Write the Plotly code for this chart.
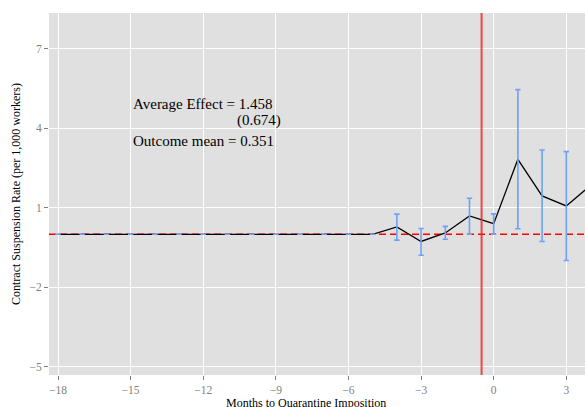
import plotly.graph_objects as go

months = [-18, -17, -16, -15, -14, -13, -12, -11, -10, -9, -8, -7, -6, -5,
          -4, -3, -2, -1, 0, 1, 2, 3, 4]
coef = [0, 0, 0, 0, 0, 0, 0, 0, 0, 0, 0, 0, 0, 0,
        0.28, -0.27, 0.05, 0.69, 0.40, 2.83, 1.45, 1.07, 1.84]
ci_upper = [0, 0, 0, 0, 0, 0, 0, 0, 0, 0, 0, 0, 0, 0,
            0.76, 0.22, 0.30, 1.36, 0.77, 5.46, 3.18, 3.12, 3.60]
ci_lower = [0, 0, 0, 0, 0, 0, 0, 0, 0, 0, 0, 0, 0, 0,
            -0.22, -0.79, -0.19, 0.00, 0.00, 0.21, -0.27, -0.99, 0.10]

x_ticks = [-18, -15, -12, -9, -6, -3, 0, 3]
y_ticks = [-5, -2, 1, 4, 7]

err_plus = [u - c for u, c in zip(ci_upper, coef)]
err_minus = [c - l for c, l in zip(coef, ci_lower)]

SERIF = "Liberation Serif, Times New Roman, serif"
TICK_GRAY = "#7f7f7f"

fig = go.Figure()
fig.add_trace(go.Scatter(
    x=months, y=coef, mode="lines",
    line=dict(color="black", width=1.3),
    hoverinfo="skip", showlegend=False,
))
fig.add_trace(go.Scatter(
    x=months, y=coef, mode="markers",
    marker=dict(size=1, color="rgba(0,0,0,0)"),
    error_y=dict(type="data", symmetric=False, array=err_plus,
                 arrayminus=err_minus, color="#6ea2f7",
                 thickness=1.6, width=2.7),
    hoverinfo="skip", showlegend=False,
))

fig.add_shape(type="line", xref="paper", yref="y", x0=0, x1=1, y0=0, y1=0,
              line=dict(color="#ff0000", width=1.6, dash="7px,4px"),
              layer="between")
fig.add_shape(type="line", xref="x", yref="paper", x0=-0.5, x1=-0.5, y0=0, y1=1,
              line=dict(color="rgba(240,40,40,0.85)", width=2),
              layer="above")

fig.add_annotation(x=-15.0, y=4.92, xref="x", yref="y", text="Average Effect = 1.458",
                   showarrow=False, xanchor="left", yanchor="middle",
                   font=dict(family=SERIF, size=15, color="black"))
fig.add_annotation(x=-8.72, y=4.30, xref="x", yref="y", text="(0.674)",
                   showarrow=False, xanchor="right", yanchor="middle",
                   font=dict(family=SERIF, size=15, color="black"))
fig.add_annotation(x=-15.0, y=3.51, xref="x", yref="y", text="Outcome mean = 0.351",
                   showarrow=False, xanchor="left", yanchor="middle",
                   font=dict(family=SERIF, size=15, color="black"))

# x-axis title (placed as annotation so it can sit at the very bottom, as in the reference)
fig.add_annotation(x=0.4795, y=0, xref="paper", yref="paper",
                   text="Months to Quarantine Imposition",
                   showarrow=False, xanchor="center", yanchor="top", yshift=-19,
                   font=dict(family=SERIF, size=12, color="black"))

fig.update_layout(
    width=585, height=407,
    margin=dict(l=49, r=0, t=13, b=32),
    paper_bgcolor="white", plot_bgcolor="#e0e0e0",
    font=dict(family=SERIF, size=12, color="black"),
    showlegend=False,
)
fig.update_xaxes(
    range=[-18.372, 3.773], tickvals=x_ticks,
    showgrid=True, gridcolor="white", gridwidth=1.2, zeroline=False,
    ticks="outside", ticklen=4, tickcolor=TICK_GRAY, tickwidth=1,
    tickfont=dict(family=SERIF, size=11.5, color=TICK_GRAY),
    showline=False, automargin=False,
)
fig.update_yaxes(
    range=[-5.31, 8.35], tickvals=y_ticks,
    showgrid=True, gridcolor="white", gridwidth=1.2, zeroline=False,
    ticks="outside", ticklen=4, tickcolor=TICK_GRAY, tickwidth=1,
    tickfont=dict(family=SERIF, size=11.5, color=TICK_GRAY),
    title=dict(text="Contract Suspension Rate (per 1,000 workers)", standoff=6,
               font=dict(family=SERIF, size=12, color="black")),
    showline=False, automargin=False,
)

fig.write_html("out.html",
               config={"displayModeBar": False},
               post_script="document.body.style.margin='0';document.body.style.overflow='hidden';")
